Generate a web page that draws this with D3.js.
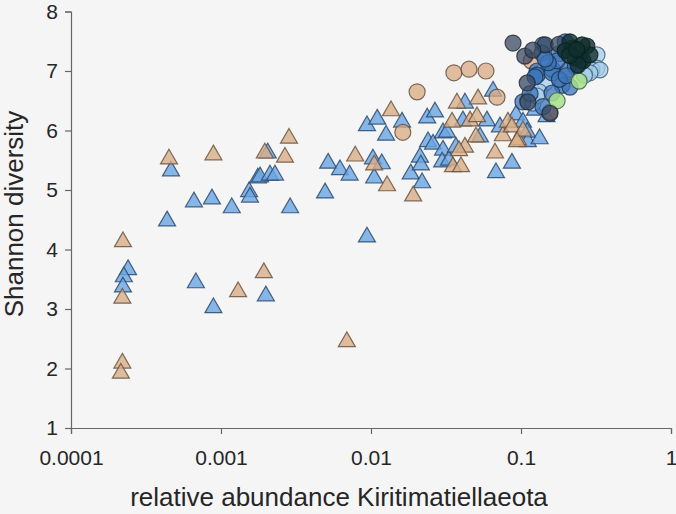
<!DOCTYPE html>
<html>
<head>
<meta charset="utf-8">
<script src="https://cdn.jsdelivr.net/npm/d3@7"></script>
<style>
  body { margin: 0; background: #f5f5f5; }
  svg { display: block; font-family: "Liberation Sans", Arial, sans-serif; }
</style>
</head>
<body>
<svg id="chart" width="676" height="514"></svg>
<script>
// tick labels
const xTicks = [0.0001, 0.001, 0.01, 0.1, 1];
const xTickLabels = ["0.0001", "0.001", "0.01", "0.1", "1"];
const yTicks = [1, 2, 3, 4, 5, 6, 7, 8];

// [relative abundance, shannon diversity]
const blueTriangles = [
  [0.00024, 3.66], [0.000225, 3.54], [0.000222, 3.37], [0.000464, 5.32], [0.000437, 4.48],
  [0.00066, 4.80], [0.00068, 3.44], [0.00087, 4.85], [0.00089, 3.02], [0.00118, 4.70],
  [0.00154, 4.97], [0.00156, 4.88], [0.00176, 5.20], [0.00182, 5.22], [0.00205, 5.62],
  [0.00212, 5.25], [0.00229, 5.25], [0.00199, 3.22], [0.00289, 4.70], [0.00494, 4.95],
  [0.00518, 5.45], [0.00621, 5.34], [0.0072, 5.25], [0.0094, 4.21], [0.0094, 6.08],
  [0.0110, 6.19], [0.0103, 5.52], [0.0118, 5.44], [0.0105, 5.20], [0.0126, 5.92],
  [0.0161, 6.14], [0.0184, 5.27], [0.0212, 5.55], [0.0215, 5.42], [0.0219, 5.12],
  [0.0237, 6.21], [0.0267, 6.31], [0.0240, 5.81], [0.0259, 5.77], [0.0302, 5.67],
  [0.0302, 5.96], [0.0321, 5.97], [0.0298, 5.47], [0.0331, 5.50], [0.0368, 5.72],
  [0.0423, 6.46], [0.0410, 6.16], [0.0593, 6.16], [0.0533, 5.89], [0.0651, 6.66],
  [0.087, 5.45], [0.0681, 5.29], [0.0724, 6.06], [0.0927, 6.26], [0.103, 6.14],
  [0.110, 5.97], [0.111, 5.81], [0.133, 5.86], [0.124, 6.34], [0.148, 6.23]
];

const tanTriangles = [
  [0.000222, 4.13], [0.00022, 3.18], [0.00022, 2.09], [0.000215, 1.92], [0.00045, 5.52],
  [0.00089, 5.59], [0.0013, 3.29], [0.00193, 3.61], [0.00196, 5.62], [0.00267, 5.55],
  [0.00284, 5.87], [0.0069, 2.45], [0.00785, 5.57], [0.0105, 5.42], [0.0128, 5.07],
  [0.0136, 6.33], [0.0191, 4.90], [0.0347, 6.14], [0.0374, 6.46], [0.0517, 6.53],
  [0.0352, 5.39], [0.0398, 5.39], [0.0423, 5.72], [0.0386, 5.66], [0.0457, 6.16],
  [0.0509, 6.23], [0.0501, 5.89], [0.0671, 5.62], [0.0757, 5.91], [0.0818, 6.14],
  [0.087, 6.06], [0.0955, 5.84], [0.103, 5.99], [0.0941, 5.81]
];

const tanCircles = [
  [0.0163, 5.97], [0.0203, 6.65], [0.0357, 6.97], [0.045, 7.03], [0.0584, 7.00],
  [0.0692, 6.56], [0.117, 7.17], [0.111, 6.51], [0.156, 6.31]
];

const lightBlueCircles = [
  [0.321, 7.27], [0.321, 7.05], [0.297, 7.02], [0.336, 7.02], [0.288, 6.97],
  [0.145, 6.80], [0.132, 6.65], [0.120, 6.46], [0.265, 6.93], [0.128, 6.58]
];

const blueCircles = [
  [0.140, 7.44], [0.138, 7.30], [0.179, 7.29], [0.197, 7.49], [0.163, 7.02],
  [0.206, 7.02], [0.128, 7.00], [0.128, 6.93], [0.161, 6.97], [0.188, 6.76],
  [0.212, 6.73], [0.161, 6.63], [0.103, 6.48], [0.124, 6.90], [0.174, 7.17],
  [0.152, 7.14], [0.230, 7.08], [0.250, 7.18], [0.180, 6.86], [0.145, 7.20],
  [0.115, 6.62], [0.140, 6.40], [0.200, 6.92]
];

const greenCircles = [[0.244, 6.83], [0.174, 6.50]];

const darkCircles = [
  [0.0885, 7.47], [0.106, 7.25], [0.110, 6.80], [0.111, 6.48], [0.156, 6.29],
  [0.145, 7.44], [0.179, 7.45], [0.120, 7.35]
];

const darkCore = [
  [0.222, 7.39], [0.247, 7.30], [0.275, 7.42], [0.229, 7.22], [0.212, 7.49],
  [0.259, 7.17], [0.197, 7.34], [0.288, 7.27], [0.240, 7.10], [0.255, 7.44],
  [0.210, 7.26], [0.235, 7.36]
];

const svg = d3.select("#chart");

const x = d3.scaleLog().domain([0.0001, 1]).range([71, 671]);
const y = d3.scaleLinear().domain([1, 8]).range([428, 11.5]);

// axes
const xAxis = svg.append("g")
  .attr("transform", "translate(0,428)")
  .call(d3.axisBottom(x).tickValues(xTicks).tickFormat((d, i) => xTickLabels[i]).tickSizeOuter(0).tickSize(6));
const yAxis = svg.append("g")
  .attr("transform", "translate(71,0)")
  .call(d3.axisLeft(y).tickValues(yTicks).tickFormat(d3.format("d")).tickSizeOuter(0).tickSize(6));

[xAxis, yAxis].forEach(a => {
  a.select(".domain").attr("stroke", "#666").attr("stroke-width", 1.2);
  a.selectAll(".tick line").attr("stroke", "#666").attr("stroke-width", 1.2);
  a.selectAll(".tick text").attr("fill", "#262626").style("font-size", "21px");
});
xAxis.selectAll(".tick text").attr("dy", "1.35em");
yAxis.selectAll(".tick text").attr("dx", "-0.2em");

svg.append("text")
  .attr("x", 339).attr("y", 506)
  .attr("text-anchor", "middle")
  .attr("fill", "#262626")
  .style("font-size", "26px")
  .text("relative abundance Kiritimatiellaeota");

svg.append("text")
  .attr("transform", "translate(23,214) rotate(-90)")
  .attr("text-anchor", "middle")
  .attr("fill", "#262626")
  .style("font-size", "26px")
  .text("Shannon diversity");

const triangle = d3.symbol().type(d3.symbolTriangle).size(125);

function drawTriangles(data, fill, stroke) {
  svg.append("g").selectAll("path")
    .data(data).enter().append("path")
    .attr("d", triangle)
    .attr("transform", d => `translate(${x(d[0])},${y(d[1])})`)
    .attr("fill", fill)
    .attr("fill-opacity", 0.8)
    .attr("stroke", stroke)
    .attr("stroke-opacity", 0.85)
    .attr("stroke-width", 1.2);
}

function drawCircles(data, fill, stroke, op) {
  svg.append("g").selectAll("circle")
    .data(data).enter().append("circle")
    .attr("cx", d => x(d[0]))
    .attr("cy", d => y(d[1]))
    .attr("r", 8)
    .attr("fill", fill)
    .attr("fill-opacity", op)
    .attr("stroke", stroke)
    .attr("stroke-opacity", 0.8)
    .attr("stroke-width", 1.2);
}

drawTriangles(blueTriangles, "#6aa5e4", "#2b4a6b");
drawTriangles(tanTriangles, "#d8ae88", "#6b5440");
drawCircles(tanCircles, "#d9aa82", "#5e4a3a", 0.75);
drawCircles(lightBlueCircles, "#a6cdea", "#3a5a78", 0.75);
drawCircles(blueCircles, "#3b74b8", "#1d3350", 0.75);
drawCircles(greenCircles, "#a6e08c", "#3e5a36", 0.85);
drawCircles(darkCircles, "#3a4860", "#1e2733", 0.75);
drawCircles(darkCore, "#10302e", "#0a1f1e", 0.8);
</script>
</body>
</html>
